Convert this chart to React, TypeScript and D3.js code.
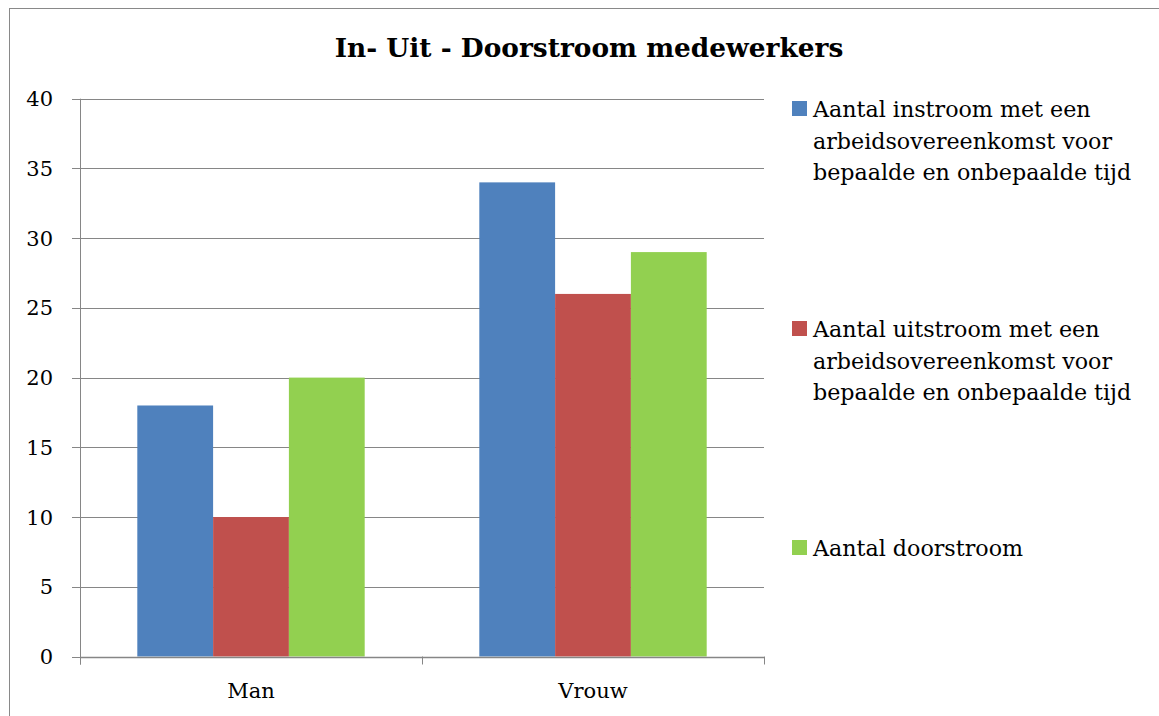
import React from 'react';
import * as d3 from 'd3';

const categories = ['Man', 'Vrouw'];
const seriesNames = [
  'Aantal instroom met een arbeidsovereenkomst voor bepaalde en onbepaalde tijd',
  'Aantal uitstroom met een arbeidsovereenkomst voor bepaalde en onbepaalde tijd',
  'Aantal doorstroom',
];
const legendLines = [
  ['Aantal instroom met een', 'arbeidsovereenkomst voor', 'bepaalde en onbepaalde tijd'],
  ['Aantal uitstroom met een', 'arbeidsovereenkomst voor', 'bepaalde en onbepaalde tijd'],
  ['Aantal doorstroom'],
];
const instroom = [18, 34];
const uitstroom = [10, 26];
const doorstroom = [20, 29];
const yTicks = [0, 5, 10, 15, 20, 25, 30, 35, 40];
const colors = ['#4F81BD', '#C0504D', '#92D050'];

const font = '"DejaVu Serif", serif';

const App = () => {
  const values = [instroom, uitstroom, doorstroom];
  const left = 80, right = 764, top = 98.7, bottom = 656.5;

  const x0 = d3.scaleBand().domain(categories).range([left, right]).paddingInner(0).paddingOuter(0);
  const x1 = d3.scaleBand().domain(seriesNames).range([0, x0.bandwidth()]).paddingInner(0).paddingOuter(0.756);
  const y = d3.scaleLinear().domain([0, 40]).range([bottom, top]);

  const xTickPos = [left, ...categories.map((c) => (x0(c) as number) + x0.bandwidth())];
  const legendY = [117, 337, 556];

  return (
    <svg width={1159} height={716} style={{ position: 'absolute', left: 0, top: 0 }}>
      <rect x={0} y={0} width={1159} height={716} fill="#fff" />
      <rect x={9.5} y={8.5} width={1300} height={900} fill="none" stroke="#898989" strokeWidth={1} />
      <text x={589} y={57} textAnchor="middle" fontFamily={font} fontWeight="bold" fontSize={26.4} fill="#000">
        In- Uit - Doorstroom medewerkers
      </text>

      {yTicks.map((t) => (
        <g key={t}>
          <line x1={72} x2={right} y1={Math.round(y(t)) + 0.5} y2={Math.round(y(t)) + 0.5} stroke="#868686" strokeWidth={1} />
          <text x={53} y={y(t)} dy="0.36em" textAnchor="end" fontFamily={font} fontSize={21} fill="#000">
            {t}
          </text>
        </g>
      ))}
      <line x1={left + 0.5} x2={left + 0.5} y1={top} y2={bottom + 8} stroke="#868686" strokeWidth={1} />

      {categories.map((c, ci) => (
        <g key={c} transform={`translate(${x0(c)},0)`}>
          {seriesNames.map((s, si) => (
            <rect
              key={s}
              x={x1(s)}
              y={y(values[si][ci])}
              width={x1.bandwidth()}
              height={y(0) - y(values[si][ci])}
              fill={colors[si]}
            />
          ))}
          <text x={x0.bandwidth() / 2} y={698} textAnchor="middle" fontFamily={font} fontSize={21} fill="#000">
            {c}
          </text>
        </g>
      ))}

      <line x1={left} x2={right} y1={Math.round(bottom) + 0.5} y2={Math.round(bottom) + 0.5} stroke="#868686" strokeWidth={1.5} />
      {xTickPos.map((p, i) => (
        <line key={i} x1={Math.round(p) + 0.5} x2={Math.round(p) + 0.5} y1={bottom} y2={bottom + 8} stroke="#868686" strokeWidth={1} />
      ))}

      {legendLines.map((lines, i) => (
        <g key={i}>
          <rect x={792} y={legendY[i] - 16} width={15} height={15} fill={colors[i]} />
          {lines.map((ln, j) => (
            <text key={j} x={813} y={legendY[i] + j * 31.5} fontFamily={font} fontSize={22.2} fill="#000">
              {ln}
            </text>
          ))}
        </g>
      ))}
    </svg>
  );
};

export default App;
